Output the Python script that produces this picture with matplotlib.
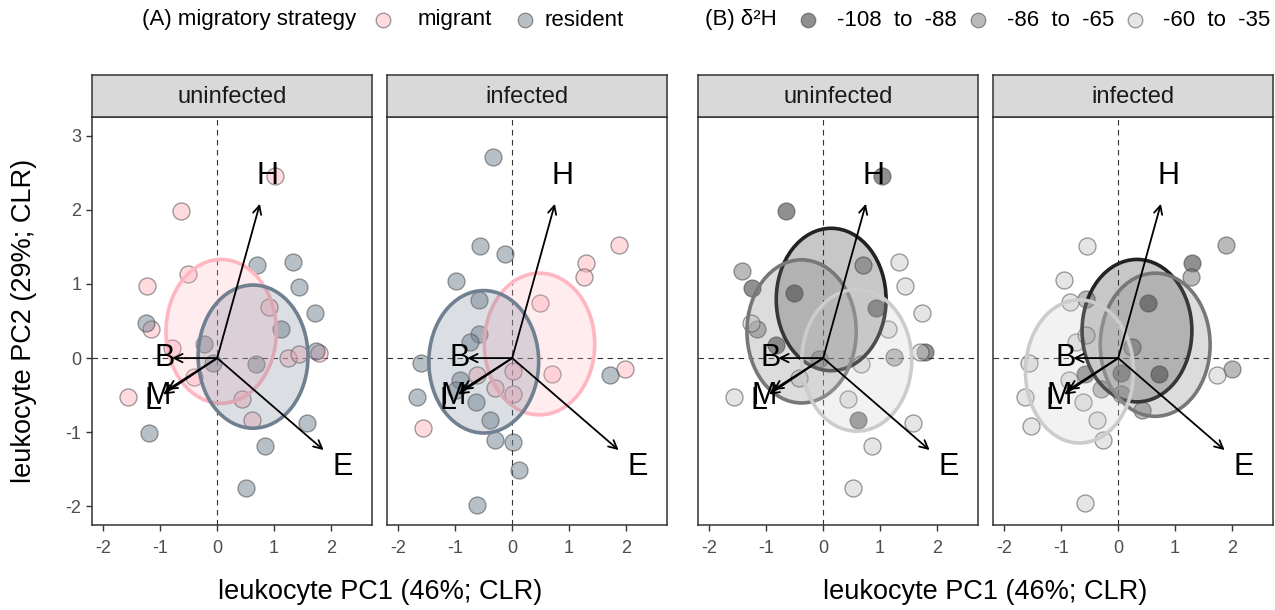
import numpy as np
import matplotlib.pyplot as plt
from matplotlib.patches import Ellipse
from matplotlib.lines import Line2D
from matplotlib.colors import to_rgba

plt.rcParams['font.family'] = ['Liberation Sans', 'DejaVu Sans']
plt.rcParams['axes.unicode_minus'] = False

# ---- (A) migratory strategy ----
mig_uninf_x = [1.02, -0.64, -0.52, -1.23, -1.16, -0.80, -0.40, -1.56, 0.91, 1.25, 1.44, 1.79, 0.43, 0.61]
mig_uninf_y = [2.45, 1.98, 1.14, 0.97, 0.39, 0.14, -0.25, -0.52, 0.69, 0.00, 0.05, 0.07, -0.55, -0.84]
res_uninf_x = [0.70, 1.33, 1.44, 1.72, 1.12, -1.25, -0.23, -0.08, 0.68, 1.74, 1.57, 0.84, -1.20, 0.51]
res_uninf_y = [1.25, 1.29, 0.96, 0.61, 0.39, 0.47, 0.19, -0.07, -0.08, 0.09, -0.88, -1.18, -1.01, -1.75]

mig_inf_x = [1.88, 1.29, 1.27, 0.49, -0.61, 0.02, 0.70, -0.30, 0.02, 1.99, -1.56]
mig_inf_y = [1.52, 1.28, 1.09, 0.74, -0.23, -0.18, -0.22, -0.40, -0.48, -0.15, -0.94]
res_inf_x = [-0.33, -0.57, -0.13, -0.98, -0.58, -0.58, -0.75, -1.61, -0.91, -0.98, -1.67, -0.63,
             -0.39, -0.31, 0.02, 0.12, -0.61, 1.72]
res_inf_y = [2.71, 1.51, 1.40, 1.04, 0.78, 0.33, 0.22, -0.07, -0.30, -0.43, -0.52, -0.59,
             -0.84, -1.11, -1.13, -1.51, -1.98, -0.23]

# ellipses: centre x, centre y, half-width, half-height
ell_mig_uninf = (0.07, 0.36, 0.97, 0.97)
ell_res_uninf = (0.63, 0.02, 0.965, 0.965)
ell_mig_inf = (0.48, 0.19, 0.97, 0.955)
ell_res_inf = (-0.50, -0.05, 0.965, 0.96)

# ---- (B) d2H groups ----
d2h_labels = ['-108  to  -88', '-86  to  -65', '-60  to  -35']

dark_uninf_x = [1.03, -0.65, -1.25, -0.52, -0.83, 0.92, 1.79, 0.61]
dark_uninf_y = [2.45, 1.98, 0.95, 0.88, 0.17, 0.68, 0.08, -0.84]
mid_uninf_x = [0.70, -1.42, -1.16, -0.08, 1.25]
mid_uninf_y = [1.26, 1.18, 0.39, -0.01, 0.01]
light_uninf_x = [1.34, 1.44, 1.73, 1.13, -1.27, -0.42, -1.56, 1.70, 0.67, 0.44, 1.57, 0.85, 0.52]
light_uninf_y = [1.29, 0.97, 0.61, 0.39, 0.47, -0.27, -0.52, 0.08, -0.08, -0.55, -0.88, -1.18, -1.75]

dark_inf_x = [1.30, 0.52, -0.58, 0.05, 0.72]
dark_inf_y = [1.28, 0.74, -0.22, -0.20, -0.22]
mid_inf_x = [1.89, 1.28, -0.56, 0.24, 2.00, -0.30, 0.05, 0.42]
mid_inf_y = [1.52, 1.09, 0.80, 0.15, -0.15, -0.41, -0.48, -0.70]
light_inf_x = [-0.55, -0.96, -0.85, -0.74, -0.56, -1.56, -0.87, 1.73, -1.64, -0.61, -0.37, -1.54, -0.27, -0.59]
light_inf_y = [1.51, 1.05, 0.76, 0.22, 0.31, -0.07, -0.30, -0.23, -0.52, -0.59, -0.84, -0.92, -1.11, -1.95]

ell_dark_uninf = (0.14, 0.79, 0.965, 0.96)
ell_mid_uninf = (-0.38, 0.36, 0.96, 0.965)
ell_light_uninf = (0.59, -0.03, 0.965, 0.955)
ell_dark_inf = (0.33, 0.37, 0.965, 0.96)
ell_mid_inf = (0.65, 0.18, 0.965, 0.965)
ell_light_inf = (-0.68, -0.18, 0.95, 0.965)

# leukocyte loadings
load_labels = ['H', 'E', 'B', 'M', 'L']
load_x = [0.75, 1.87, -0.79, -0.88, -0.95]
load_y = [2.08, -1.24, 0.00, -0.43, -0.49]

mig_col = '#FFB6C1'
res_col = '#708090'
grp_cols = ['#222222', '#777777', '#CCCCCC']

W, H = 1275, 610
fig = plt.figure(figsize=(W / 100, H / 100), dpi=100)

lefts = [92, 387, 698, 993]
pw = 280
top, bottom = 117, 525
strip_top = 75


def draw_panel(ax, pts, ells, title, ylabels):
    ax.set_xlim(-2.2, 2.72)
    ax.set_ylim(-2.25, 3.25)
    ax.axhline(0, color='#333333', lw=0.8, ls=(0, (5, 4)), zorder=1)
    ax.axvline(0, color='#333333', lw=0.8, ls=(0, (5, 4)), zorder=1)
    for xs, ys, col in pts:
        ax.scatter(xs, ys, s=150, facecolor=col, edgecolor='#333333', linewidths=0.9,
                   alpha=0.5, zorder=2)
    for (cx, cy, hw, hh), col in ells:
        ax.add_patch(Ellipse((cx, cy), 2 * hw, 2 * hh, facecolor=to_rgba(col, 0.25),
                             edgecolor=col, lw=2.6, zorder=3))
    for lab, lx, ly in zip(load_labels, load_x, load_y):
        ax.annotate('', xy=(lx, ly), xytext=(0, 0),
                    arrowprops=dict(arrowstyle='->,head_length=0.6,head_width=0.3',
                                    color='black', lw=1.3, shrinkA=0, shrinkB=0), zorder=5)
        ax.text(lx * 1.18, ly * 1.18, lab, fontsize=22, ha='center', va='center', zorder=6)
    ax.set_xticks([-2, -1, 0, 1, 2])
    ax.set_yticks([-2, -1, 0, 1, 2, 3])
    ax.tick_params(axis='both', colors='#333333', labelcolor='#4D4D4D', labelsize=13,
                   length=4.5, width=1, direction='out')
    ax.tick_params(axis='x', pad=6)
    ax.tick_params(axis='y', pad=3)
    if not ylabels:
        ax.tick_params(axis='y', left=False, labelleft=False)
    for sp in ax.spines.values():
        sp.set_color('#333333')
        sp.set_linewidth(1.1)

    pos = ax.get_position()
    sax = fig.add_axes([pos.x0, 1 - top / H, pos.width, (top - strip_top) / H])
    sax.set_facecolor('#D9D9D9')
    sax.set_xticks([])
    sax.set_yticks([])
    for sp in sax.spines.values():
        sp.set_color('#333333')
        sp.set_linewidth(1.1)
    sax.text(0.5, 0.47, title, fontsize=17, color='#1A1A1A', ha='center', va='center',
             transform=sax.transAxes)


axes = []
for i, l in enumerate(lefts):
    axes.append(fig.add_axes([l / W, 1 - bottom / H, pw / W, (bottom - top) / H]))

draw_panel(axes[0], [(mig_uninf_x, mig_uninf_y, mig_col), (res_uninf_x, res_uninf_y, res_col)],
           [(ell_mig_uninf, mig_col), (ell_res_uninf, res_col)], 'uninfected', True)
draw_panel(axes[1], [(mig_inf_x, mig_inf_y, mig_col), (res_inf_x, res_inf_y, res_col)],
           [(ell_mig_inf, mig_col), (ell_res_inf, res_col)], 'infected', False)
draw_panel(axes[2], [(dark_uninf_x, dark_uninf_y, grp_cols[0]), (mid_uninf_x, mid_uninf_y, grp_cols[1]),
                     (light_uninf_x, light_uninf_y, grp_cols[2])],
           [(ell_dark_uninf, grp_cols[0]), (ell_mid_uninf, grp_cols[1]), (ell_light_uninf, grp_cols[2])],
           'uninfected', False)
draw_panel(axes[3], [(dark_inf_x, dark_inf_y, grp_cols[0]), (mid_inf_x, mid_inf_y, grp_cols[1]),
                     (light_inf_x, light_inf_y, grp_cols[2])],
           [(ell_dark_inf, grp_cols[0]), (ell_mid_inf, grp_cols[1]), (ell_light_inf, grp_cols[2])],
           'infected', False)

# axis titles
fig.text(380 / W, 1 - 592 / H, 'leukocyte PC1 (46%; CLR)', fontsize=19.5, ha='center', va='center')
fig.text(985 / W, 1 - 592 / H, 'leukocyte PC1 (46%; CLR)', fontsize=19.5, ha='center', va='center')
fig.text(24 / W, 1 - 321 / H, 'leukocyte PC2 (29%; CLR)', fontsize=19.5, ha='center', va='center',
         rotation=90)

# legends
ly = 1 - 20 / H


def leg_marker(xpx, col):
    fig.add_artist(Line2D([xpx / W], [ly], marker='o', ms=10.5, mfc=col, mec='#333333', mew=0.9,
                          alpha=0.5, ls='none', transform=fig.transFigure))


fig.text(142 / W, ly, '(A) migratory strategy', fontsize=16, va='center')
leg_marker(383, mig_col)
fig.text(418 / W, ly, 'migrant', fontsize=16, va='center')
leg_marker(525, res_col)
fig.text(545 / W, ly, 'resident', fontsize=16, va='center')

fig.text(705 / W, ly, '(B) δ²H', fontsize=16, va='center')
for xm, xt, col, lab in zip([808, 978, 1135], [837, 1007, 1163], grp_cols, d2h_labels):
    leg_marker(xm, col)
    fig.text(xt / W, ly, lab, fontsize=16, va='center')

fig.savefig('out.png', dpi=100)
